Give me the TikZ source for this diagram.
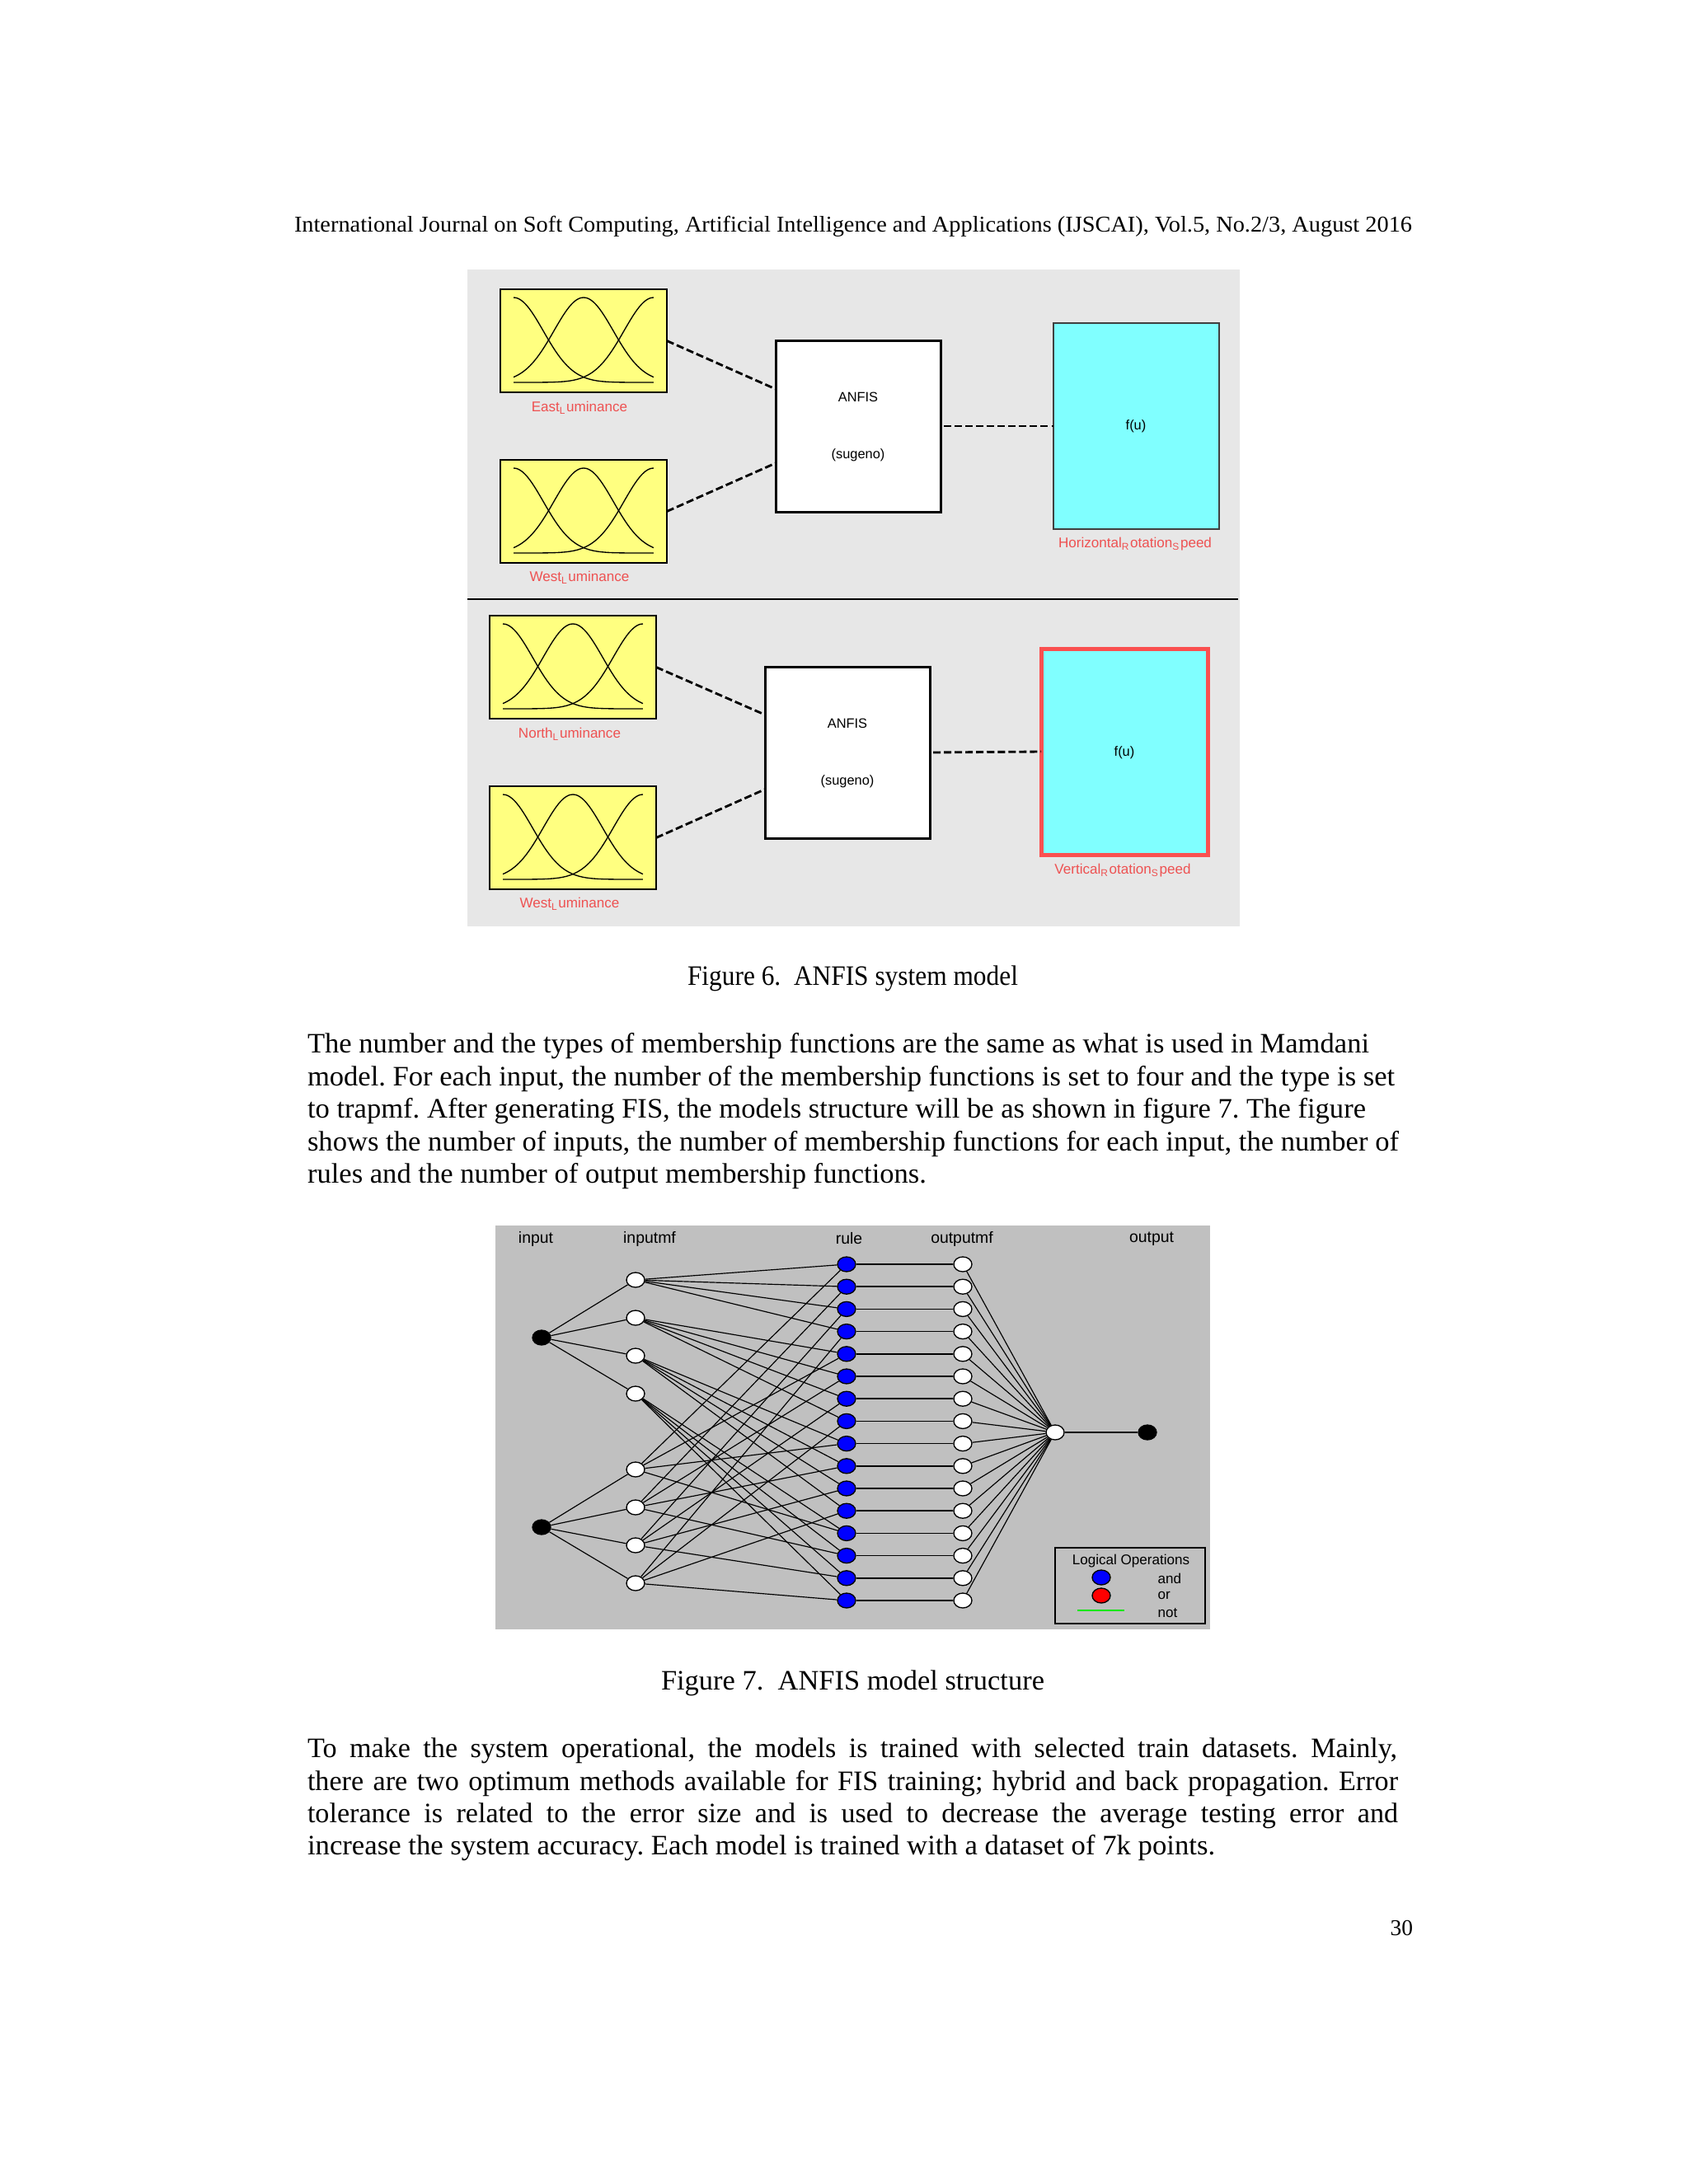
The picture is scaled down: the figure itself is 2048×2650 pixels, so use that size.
\documentclass[tikz,border=0pt]{standalone}
\usepackage{fontspec}
\setmainfont{Liberation Serif}
\setsansfont{Liberation Sans}
\usetikzlibrary{calc,shapes.geometric}
\frenchspacing
\newlength\px \setlength\px{0.29887pt}
\definecolor{figbg}{RGB}{231,231,231}
\definecolor{netbg}{RGB}{192,192,192}
\definecolor{myyellow}{RGB}{255,255,128}
\definecolor{mycyan}{RGB}{128,255,255}
\definecolor{labred}{RGB}{238,82,82}
\definecolor{bordred}{RGB}{250,80,80}
\definecolor{ruleblue}{RGB}{0,0,255}
\definecolor{legred}{RGB}{255,0,0}
\definecolor{leggreen}{RGB}{0,230,0}
\begin{document}
\begin{tikzpicture}[x=0.29887pt,y=-0.29887pt,
  body/.style={font=\fontsize{10.2}{12}\selectfont, inner sep=0, outer sep=0, anchor=base west},
  hdr/.style={font=\fontsize{8.2}{10}\selectfont, inner sep=0, outer sep=0},
  sf/.style={font=\sffamily\fontsize{4.9}{5.5}\selectfont, inner sep=0},
  sfh/.style={font=\sffamily\fontsize{5.8}{6.5}\selectfont, inner sep=0},
  sfs/.style={font=\sffamily\fontsize{5.1}{6}\selectfont, inner sep=0},
  redlab/.style={font=\sffamily\fontsize{5.1}{6}\selectfont, inner sep=0, text=labred},
  mfbox/.style={draw, fill=myyellow, line width=0.6pt, minimum width=202\px, minimum height=125\px, anchor=north west, inner sep=0, outer sep=0},
  anfisbox/.style={draw, fill=white, line width=0.9pt, minimum width=200\px, minimum height=208\px, anchor=north west, inner sep=0, outer sep=0},
  fubox/.style={draw=black!75, fill=mycyan, line width=0.4pt, minimum width=201\px, minimum height=250\px, anchor=north west, inner sep=0, outer sep=0},
  fuboxsel/.style={fubox, draw=bordred, line width=1.5pt},
  dashline/.style={line width=0.85pt, dash pattern=on 2.7pt off 1.2pt},
  mfcurve/.style={line width=0.4pt},
  net/.style={line width=0.35pt},
  wnode/.style={ellipse, draw, fill=white, line width=0.4pt, minimum width=22\px, minimum height=18\px, inner sep=0},
  knode/.style={wnode, fill=black},
  bnode/.style={wnode, fill=ruleblue},
  rnode/.style={wnode, fill=legred}]

\fill[white] (0,0) rectangle (2048,2650);
\useasboundingbox (0,0) rectangle (2048,2650);

% header
\node[hdr, anchor=base west] (hd) at (357,281) {\resizebox{1356\px}{\height}{International Journal on Soft Computing, Artificial Intelligence and Applications (IJSCAI), Vol.5, No.2/3, August 2016}};

% ---------------- Figure 6 ----------------
\fill[figbg] (567,327) rectangle (1504,1124);
\draw[line width=0.6pt] (567,727) -- (1502,727);

\foreach \L/\T/\nm in {607/351/e1, 607/558/e2, 594/747/e3, 594/954/e4}{
  \node[mfbox] (\nm) at (\L,\T) {};
  \foreach \c in {0,0.5,1}
    \draw[mfcurve] plot[domain=0:1, samples=61, variable=\t] ({\L+16+170*\t},{\T+113-103*exp(-(\t-\c)*(\t-\c)/0.09)});
}

\node[anfisbox] (a1) at (941,413) {};
\node[anfisbox] (a2) at (928,809) {};
\node[fubox] (c1) at (1278,392) {};
\node[fuboxsel, minimum width=202\px] (c2) at (1263,787) {};

\node[sf] (a1t) at (1041,482) {ANFIS};
\node[sf] (a1s) at (1041,552) {(sugeno)};
\node[sf] (a2t) at (1028,878) {ANFIS};
\node[sf] (a2s) at (1028,948) {(sugeno)};
\node[sf] (c1t) at (1378,517) {f(u)};
\node[sf] (c2t) at (1364,913) {f(u)};

\node[redlab] (l1) at (703,495) {East\textsubscript{L}uminance};
\node[redlab] (l2) at (703,701) {West\textsubscript{L}uminance};
\node[redlab] (l3) at (1377,660) {Horizontal\textsubscript{R}otation\textsubscript{S}peed};
\node[redlab] (l4) at (691,891) {North\textsubscript{L}uminance};
\node[redlab] (l5) at (691,1097) {West\textsubscript{L}uminance};
\node[redlab] (l6) at (1362,1056) {Vertical\textsubscript{R}otation\textsubscript{S}peed};

\draw[dashline] (e1.east) -- ($(a1.north west)!0.284!(a1.south west)$);
\draw[dashline] (e2.east) -- ($(a1.north west)!0.716!(a1.south west)$);
\draw[dashline, shorten <=4\px] (a1.east) -- (c1.west);
\draw[dashline] (e3.east) -- ($(a2.north west)!0.28!(a2.south west)$);
\draw[dashline] (e4.east) -- ($(a2.north west)!0.715!(a2.south west)$);
\draw[dashline, shorten <=4\px] (a2.east) -- (c2.west);

\node[body] (cap6) at (834,1195) {\resizebox{401\px}{\height}{Figure 6.\ \ ANFIS system model}};

% paragraph 1
\node[body] (p1a) at (373,1277) {\resizebox{1288\px}{\height}{The number and the types of membership functions are the same as what is used in Mamdani}};
\node[body] (p1b) at (373,1317) {\resizebox{1319\px}{\height}{model. For each input, the number of the membership functions is set to four and the type is set}};
\node[body] (p1c) at (373,1356) {\resizebox{1284\px}{\height}{to trapmf. After generating FIS, the models structure will be as shown in figure 7. The figure}};
\node[body] (p1d) at (373,1396) {\resizebox{1324\px}{\height}{shows the number of inputs, the number of membership functions for each input, the number of}};
\node[body] (p1e) at (373,1435) {\resizebox{751\px}{\height}{rules and the number of output membership functions.}};

% ---------------- Figure 7 ----------------
\fill[netbg] (601,1487) rectangle (1468,1977);

\node[sfh] (hin) at (650,1503) {input};
\node[sfh] (hmf) at (788,1503) {inputmf};
\node[sfh] (hru) at (1030,1503) {rule};
\node[sfh] (hom) at (1167,1503) {outputmf};
\node[sfh] (hou) at (1397,1503) {output};

\node[knode] (in1) at (657,1623) {};
\node[knode] (in2) at (657,1853) {};
\foreach \i/\yy in {1/1553, 2/1599, 3/1645, 4/1691, 5/1783, 6/1829, 7/1875, 8/1921}
  \node[wnode] (m\i) at (771,\yy) {};
\foreach \k in {1,...,16}{
  \pgfmathsetmacro\yy{1534+27.2*(\k-1)}
  \node[bnode] (r\k) at (1027,\yy) {};
  \node[wnode] (o\k) at (1168,\yy) {};
}
\node[wnode] (agg) at (1280,1738) {};
\node[knode] (out) at (1392,1738) {};

\foreach \i in {1,...,4} \draw[net] (in1) -- (m\i);
\foreach \i in {5,...,8} \draw[net] (in2) -- (m\i);
\foreach \i in {1,...,4}{
  \foreach \j in {1,...,4}{
    \pgfmathtruncatemacro\k{4*(\i-1)+\j}
    \pgfmathtruncatemacro\l{\j+4}
    \draw[net] (m\i) -- (r\k);
    \draw[net] (m\l) -- (r\k);
  }
}
\foreach \k in {1,...,16}{
  \draw[net, line width=0.45pt] (r\k) -- (o\k);
  \draw[net] (o\k) -- (agg);
}
\draw[net, line width=0.45pt] (agg) -- (out);

% legend
\node[draw, line width=0.5pt, minimum width=182\px, minimum height=92\px, anchor=north west, inner sep=0] (leg) at (1279,1877) {};
\node[sfs] (legt) at (1372,1894) {Logical Operations};
\node[bnode] (lb) at (1336,1914) {};
\node[rnode] (lr) at (1336,1936) {};
\coordinate (g1) at (1307,1954);
\coordinate (g2) at (1364,1954);
\draw[leggreen, line width=0.35pt] (g1) -- (g2);
\node[sfs, anchor=west] (land) at (1404,1915) {and};
\node[sfs, anchor=west] (lor) at (1404,1936) {or};
\node[sfs, anchor=west] (lnot) at (1404,1957) {not};

\node[body] (cap7) at (802,2050) {\resizebox{465\px}{\height}{Figure 7.\ \ ANFIS model structure}};

% paragraph 2
\node[body] (p2a) at (373,2132) {\makebox[1322\px][s]{To make the system operational, the models is trained with selected train datasets. Mainly,}};
\node[body] (p2b) at (373,2172) {\makebox[1323\px][s]{there are two optimum methods available for FIS training; hybrid and back propagation. Error}};
\node[body] (p2c) at (373,2211) {\makebox[1323\px][s]{tolerance is related to the error size and is used to decrease the average testing error and}};
\node[body] (p2d) at (373,2250) {\resizebox{1101\px}{\height}{increase the system accuracy. Each model is trained with a dataset of 7k points.}};

\node[hdr, anchor=base east] (pg) at (1714,2348) {30};
\end{tikzpicture}
\end{document}
